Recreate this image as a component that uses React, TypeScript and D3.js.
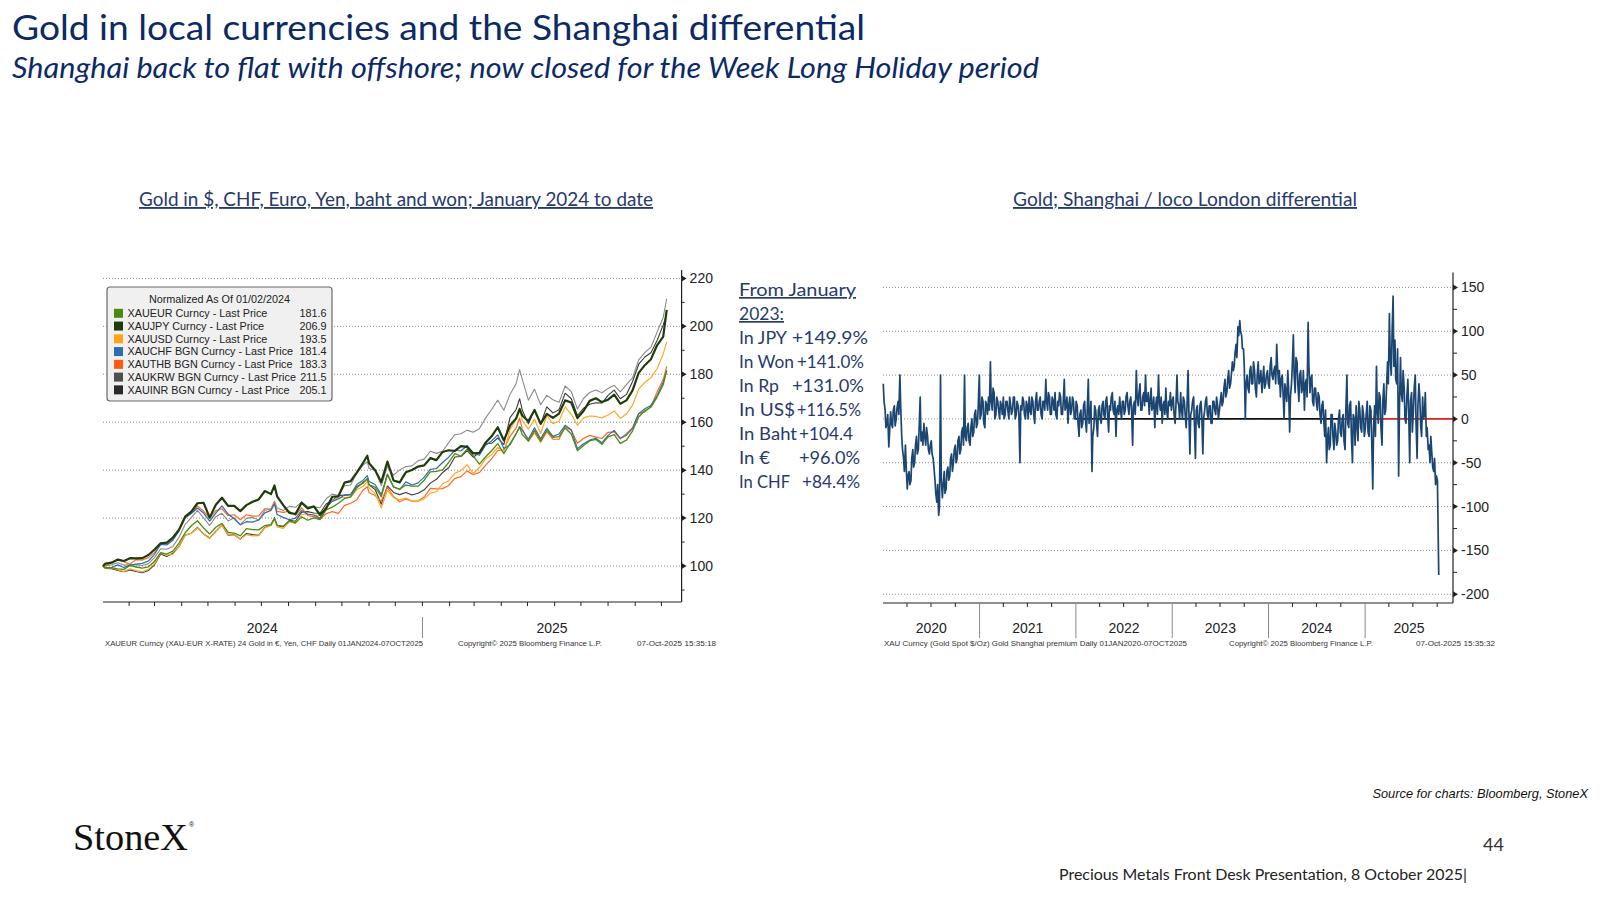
// Gold in local currencies + Shanghai premium slide
import React from 'react';
import * as d3 from 'd3';

// ---------- left chart: gold in local currencies, normalized 02/01/2024 = 100 ----------
const goldDates = [
  '2024-01-02', '2024-01-05', '2024-01-12', '2024-01-19', '2024-01-26', '2024-02-02', '2024-02-09', '2024-02-16',
  '2024-02-23', '2024-03-01', '2024-03-08', '2024-03-15', '2024-03-22', '2024-03-29', '2024-04-05', '2024-04-12',
  '2024-04-19', '2024-04-26', '2024-05-03', '2024-05-10', '2024-05-17', '2024-05-24', '2024-05-31', '2024-06-07',
  '2024-06-14', '2024-06-21', '2024-06-28', '2024-07-05', '2024-07-12', '2024-07-16', '2024-07-19', '2024-07-26',
  '2024-08-02', '2024-08-09', '2024-08-16', '2024-08-23', '2024-08-30', '2024-09-06', '2024-09-13', '2024-09-20',
  '2024-09-27', '2024-10-04', '2024-10-11', '2024-10-18', '2024-10-25', '2024-10-30', '2024-11-01', '2024-11-08',
  '2024-11-15', '2024-11-22', '2024-11-29', '2024-12-06', '2024-12-13', '2024-12-20', '2024-12-27', '2025-01-03',
  '2025-01-10', '2025-01-17', '2025-01-24', '2025-01-31', '2025-02-07', '2025-02-14', '2025-02-21', '2025-02-28',
  '2025-03-07', '2025-03-14', '2025-03-21', '2025-03-28', '2025-04-04', '2025-04-11', '2025-04-18', '2025-04-22',
  '2025-04-25', '2025-05-02', '2025-05-09', '2025-05-16', '2025-05-23', '2025-05-30', '2025-06-06', '2025-06-13',
  '2025-06-20', '2025-06-27', '2025-07-04', '2025-07-11', '2025-07-18', '2025-07-25', '2025-08-01', '2025-08-08',
  '2025-08-15', '2025-08-22', '2025-08-29', '2025-09-05', '2025-09-12', '2025-09-19', '2025-09-26', '2025-10-03',
  '2025-10-07',
];

const xauEUR = [
  100.0, 99.1, 99.3, 98.8, 98.6, 100.2, 99.6, 99.1, 99.7, 101.9,
  105.6, 105.0, 106.2, 109.6, 113.9, 116.8, 118.9, 115.9, 113.4, 116.2,
  117.8, 114.0, 113.7, 112.6, 115.6, 115.2, 115.1, 116.9, 117.3, 119.7,
  117.0, 116.6, 118.8, 118.0, 120.5, 119.1, 120.1, 119.4, 123.4, 124.6,
  126.2, 128.2, 128.8, 132.7, 134.9, 136.2, 133.9, 132.9, 128.9, 138.2,
  132.9, 132.1, 133.8, 133.3, 133.3, 135.8, 139.3, 139.5, 140.1, 143.2,
  146.9, 145.8, 148.8, 146.0, 142.5, 145.5, 148.1, 151.1, 146.9, 151.1,
  155.2, 157.9, 154.9, 152.1, 156.7, 152.2, 156.7, 153.7, 154.0, 157.6,
  155.1, 148.1, 150.3, 152.2, 152.8, 150.8, 153.9, 154.8, 151.2, 152.5,
  156.4, 162.2, 164.8, 166.3, 170.5, 175.6, 181.6,
];
const xauJPY = [
  100.0, 101.0, 101.4, 102.7, 102.1, 103.3, 103.2, 103.3, 104.6, 106.9,
  109.5, 109.8, 111.9, 115.2, 120.6, 122.7, 126.2, 126.4, 120.2, 125.6,
  128.5, 125.1, 125.1, 122.9, 125.4, 126.8, 127.8, 131.3, 130.0, 133.6,
  129.1, 125.4, 122.2, 121.7, 126.4, 124.0, 124.9, 121.4, 124.0, 128.9,
  129.1, 134.8, 135.4, 139.0, 142.9, 146.0, 142.9, 140.0, 135.0, 143.6,
  135.7, 134.9, 139.1, 140.1, 141.5, 142.0, 145.0, 144.2, 147.6, 148.3,
  148.0, 150.0, 149.7, 147.0, 147.2, 151.4, 154.1, 157.9, 152.4, 158.6,
  161.6, 165.5, 162.8, 160.4, 165.1, 159.3, 163.5, 161.8, 163.6, 169.1,
  168.2, 161.7, 164.7, 168.9, 170.0, 168.4, 169.4, 171.5, 167.7, 169.1,
  173.3, 180.6, 183.8, 186.3, 192.1, 195.7, 206.9,
];
const xauUSD = [
  100.0, 99.1, 99.3, 98.4, 97.8, 98.8, 98.1, 97.6, 98.6, 101.0,
  105.6, 104.5, 104.9, 108.1, 112.9, 113.6, 115.9, 113.3, 111.5, 114.4,
  117.1, 113.1, 112.8, 111.2, 113.1, 112.6, 112.7, 115.9, 116.9, 119.7,
  116.3, 115.7, 118.4, 117.8, 121.5, 121.8, 121.3, 121.0, 125.0, 127.1,
  128.8, 128.6, 128.8, 131.9, 133.2, 135.1, 132.6, 130.2, 124.2, 131.6,
  128.5, 127.6, 128.4, 127.1, 127.1, 128.0, 130.4, 131.0, 134.3, 135.6,
  138.7, 139.8, 142.3, 138.5, 141.1, 144.6, 146.5, 149.5, 147.2, 156.9,
  161.3, 166.0, 160.9, 157.1, 161.2, 155.3, 162.7, 159.4, 160.4, 166.4,
  163.3, 158.7, 161.8, 162.6, 162.4, 161.8, 163.0, 164.7, 161.7, 163.4,
  167.1, 173.8, 176.6, 178.6, 182.3, 188.4, 193.5,
];
const xauCHF = [
  100.0, 99.2, 99.5, 100.5, 99.4, 100.4, 100.8, 101.1, 102.1, 104.9,
  109.0, 108.8, 110.8, 114.7, 120.1, 121.9, 124.2, 122.1, 118.7, 122.1,
  125.1, 121.7, 119.7, 117.2, 118.5, 118.3, 119.2, 122.2, 123.2, 125.9,
  121.5, 120.3, 119.3, 120.0, 123.2, 121.6, 121.3, 120.0, 124.5, 127.0,
  128.0, 129.6, 129.8, 134.0, 135.7, 137.7, 135.3, 134.0, 129.8, 138.3,
  133.1, 131.9, 135.1, 133.8, 134.7, 137.1, 140.3, 140.7, 143.2, 145.4,
  148.3, 148.0, 150.3, 147.1, 146.2, 150.4, 152.2, 154.7, 149.0, 150.5,
  155.2, 158.2, 156.7, 152.9, 157.7, 153.1, 157.5, 154.1, 155.1, 158.7,
  156.9, 148.9, 151.0, 152.5, 153.3, 151.4, 154.5, 156.6, 153.3, 154.6,
  157.4, 163.5, 165.6, 167.0, 171.0, 176.7, 181.4,
];
const xauTHB = [
  100.0, 100.0, 101.6, 102.4, 101.8, 100.8, 102.7, 102.5, 103.5, 105.7,
  109.6, 109.4, 111.3, 115.3, 120.8, 121.9, 125.1, 122.9, 120.0, 123.1,
  123.9, 121.0, 121.4, 119.3, 121.4, 120.8, 120.9, 124.0, 123.7, 126.4,
  122.8, 122.4, 122.9, 121.2, 124.3, 121.1, 120.6, 119.5, 121.8, 122.7,
  122.0, 125.3, 126.2, 127.7, 131.6, 133.1, 130.6, 129.4, 127.1, 132.8,
  128.9, 126.8, 128.0, 127.1, 127.1, 128.8, 132.4, 132.2, 132.3, 133.6,
  136.6, 137.3, 139.7, 138.1, 139.0, 142.0, 144.7, 148.2, 148.5, 154.1,
  157.6, 161.7, 157.2, 152.1, 155.6, 151.7, 156.0, 152.9, 152.9, 158.1,
  156.6, 151.2, 153.2, 154.5, 153.8, 153.2, 155.8, 156.0, 153.1, 155.2,
  157.7, 163.7, 164.2, 166.6, 172.6, 177.8, 183.3,
];
const xauKRW = [
  100.0, 100.1, 100.5, 101.4, 100.4, 100.5, 100.5, 100.2, 101.0, 103.5,
  107.2, 107.0, 108.2, 112.0, 117.4, 120.2, 123.2, 120.1, 116.9, 120.6,
  122.0, 118.8, 120.1, 117.3, 119.9, 120.3, 119.2, 123.3, 123.8, 127.1,
  124.2, 123.2, 124.9, 124.5, 126.8, 124.7, 124.7, 124.3, 128.1, 130.0,
  129.4, 133.5, 133.8, 138.8, 142.0, 143.5, 140.7, 140.0, 133.6, 141.5,
  137.9, 140.1, 141.5, 141.8, 143.9, 144.6, 147.9, 147.0, 147.9, 151.5,
  154.8, 155.2, 156.7, 155.8, 157.3, 161.7, 165.3, 169.2, 165.0, 171.6,
  176.1, 181.9, 178.0, 169.2, 173.8, 167.3, 171.2, 169.4, 168.3, 175.1,
  172.8, 165.5, 169.9, 172.4, 173.4, 172.3, 174.1, 175.4, 172.7, 175.7,
  178.6, 186.0, 189.0, 191.3, 197.6, 203.7, 211.5,
];
const xauINR = [
  100.0, 99.0, 98.9, 98.2, 97.6, 98.4, 97.7, 97.2, 98.1, 100.5,
  105.0, 104.0, 105.3, 108.2, 112.9, 113.7, 116.1, 113.4, 111.7, 114.6,
  117.1, 112.9, 113.0, 111.3, 113.6, 113.1, 112.8, 116.1, 117.1, 120.2,
  116.9, 116.3, 119.1, 118.7, 122.5, 122.7, 122.1, 122.0, 125.9, 127.4,
  129.4, 129.6, 129.8, 133.2, 134.5, 136.5, 133.9, 131.9, 125.8, 133.4,
  130.7, 129.8, 130.7, 129.6, 130.4, 131.8, 134.6, 136.2, 139.0, 141.0,
  145.5, 145.7, 148.1, 145.4, 147.3, 151.0, 151.2, 153.4, 150.7, 161.9,
  165.3, 169.8, 165.1, 159.3, 165.2, 159.3, 166.4, 163.9, 165.2, 172.1,
  169.8, 162.8, 165.8, 167.5, 168.1, 168.0, 171.2, 173.4, 169.8, 171.6,
  177.0, 184.2, 187.2, 189.0, 194.1, 200.6, 205.1,
];

const legendTitle = 'Normalized As Of 01/02/2024';
const seriesNames = [
  'XAUEUR Curncy - Last Price',
  'XAUJPY Curncy - Last Price',
  'XAUUSD Curncy - Last Price',
  'XAUCHF BGN Curncy - Last Price',
  'XAUTHB BGN Curncy - Last Price',
  'XAUKRW BGN Curncy - Last Price',
  'XAUINR BGN Curncy - Last Price',
];
const lastPrices = ['181.6', '206.9', '193.5', '181.4', '183.3', '211.5', '205.1'];
const goldTicks = [100, 120, 140, 160, 180, 200, 220];
const goldYears = ['2024', '2025'];

// ---------- middle text block ----------
const changeLabels = ['In JPY', 'In Won', 'In Rp', 'In US$', 'In Baht', 'In €', 'In CHF'];
const changeValues = ['+149.9%', '+141.0%', '+131.0%', '+116.5%', '+104.4', '+96.0%', '+84.4%'];

// ---------- right chart: Shanghai premium over loco London, $/oz ----------
// Thursday readings, weekly from 2 Jan 2020, plus the last print on 7 Oct 2025
const premiumStart = '2020-01-02';
const premiumLastDate = '2025-10-07';
const shanghaiPremium = [
  40, 10, -5, -32, 8, -10, 15, 0, 20, 50, -20, -45, -30,
  -80, -60, -70, -35, -50, -20, -35, 25, -15, -5, -30, -20, -40,
  -25, -45, -70, -95, -110, 50, -90, -60, -80, -55, -65, -40, -50,
  -30, -45, -20, -35, -10, 50, -25, -5, -30, 0, -15, 10, -5,
  50, 5, 20, -10, 15, 25, 65, 10, 30, 5, 20, 0, 15,
  25, 5, 20, 0, 15, 10, 25, 5, 15, -50, 10, 20, 0,
  15, 25, 5, 20, -5, 30, 10, 25, 0, 20, 45, 10, 25,
  5, 20, 30, 0, 15, 25, 5, 45, 15, -5, 25, 10, 20,
  0, 15, -20, 10, -5, 20, -15, 45, 5, -60, -10, 10, -20,
  15, -5, 20, 0, 25, -15, 10, 30, 5, -20, 15, 25, 0,
  20, 10, 30, 5, 25, -30, 20, 55, 15, 40, 10, 30, 50,
  20, 5, 35, 15, -10, 25, 50, 10, -5, 20, 35, 0, 15,
  10, 25, -5, 50, 15, 30, 0, 20, -10, 55, -40, 10, 25,
  -45, 15, -10, 20, -40, 10, 25, 0, 15, -5, 20, 5, 15,
  10, 30, 20, 45, 30, 55, 40, 65, 60, 85, 105, 112, 95,
  80, 0, 50, 30, 60, 40, 55, 25, 65, 45, 30, 60, 40,
  55, 35, 70, 45, 60, 85, 40, 25, 50, 0, 30, 55, -15,
  40, 96, 30, 65, 20, 55, 35, 10, 45, 110, 30, 50, 15,
  35, 10, 25, -5, 20, -20, -50, -10, -30, 5, -35, -15, -25,
  10, -20, 5, -35, 50, -10, 20, -50, 0, 15, -25, 10, -15, 5,
  -10, 20, -20, 10, -80, 15, 60, -5, 25, -30, 40, 10, 65,
  120, 50, 140, 90, 40, -65, 70, 20, 35, -5, 45, -50, 30,
  10, 50, -45, 40, -10, 25, 5, -20, -35, -50, -40, -60, -75, -70,
  -178,
];
// Sunday-after readings (three days after each Thursday reading)
const shanghaiPremiumMid = [
  20, -10, 5, -15, -5, 10, -8, 12, 5, 15, -35, -60, -55,
  -65, -75, -45, -55, -30, -40, -10, -25, -30, -20, -10, -35, -30,
  -40, -55, -85, -75, -100, -70, -75, -85, -60, -70, -45, -60, -35,
  -50, -25, -40, -15, -30, -20, -10, -25, -10, -20, 5, -10, 15,
  0, 25, -5, 20, 5, 10, 20, 35, 0, 25, 10, 20, 5,
  0, 20, 10, 25, 5, 25, 0, 20, 5, 15, 25, 5, 20,
  0, 10, 25, 5, 20, 10, 20, 5, 20, 10, 20, 30, 5,
  25, 10, 5, 20, 30, 5, 20, 10, 25, 15, 5, 25, 0,
  20, -5, 5, -10, 15, 0, 10, -5, 20, -20, 15, -5, 10,
  0, 15, 5, 20, 5, 15, 25, 10, 20, 10, 5, 10, 20,
  5, 25, 15, 20, 10, 15, 5, 25, 30, 10, 25, 15, 20,
  30, 20, 10, 25, 15, 5, 20, 25, 15, 5, 10, 20, 30,
  20, 5, 15, 20, 0, 10, 25, 5, 15, 10, 5, 20, -5,
  10, -5, 15, 5, 0, 20, 5, 15, -5, 20, 10, 25, 0,
  20, 15, 35, 25, 45, 35, 50, 55, 75, 70, 95, 100, 80,
  60, 40, 35, 55, 40, 65, 35, 50, 40, 55, 45, 35, 50,
  40, 60, 50, 55, 40, 60, 55, 45, 30, 40, 20, 35, 25,
  60, 50, 70, 40, 50, 30, 55, 40, 25, 60, 45, 20, 35,
  20, 30, 5, 15, 0, 10, -25, -35, 5, -20, -5, -30, 0,
  -15, 0, -25, 10, -5, 15, -20, 5, -30, -5, 20, -10, 15, -20,
  5, -15, 15, -25, -10, -20, 10, 30, -10, 20, 5, 35, 40,
  70, 95, 60, 45, 80, 10, 30, 55, 0, 25, 10, 20, -15,
  35, -5, 15, 25, -20, 0, 30, -10, -30, -20, -55, -45, -65,
];
const premiumTicks = [150, 100, 50, 0, -50, -100, -150, -200];
const premiumYears = ['2020', '2021', '2022', '2023', '2024', '2025'];

// ---------- styling ----------
const parseDay = (s: string) => d3.timeParse('%Y-%m-%d')(s) as Date;
const NAVY = '#0c2a66';
const SLATE = '#283a6c';
const AXIS_FONT = "'Liberation Sans', Arial, sans-serif";
const SLIDE_FONT = "Lato, 'Open Sans', sans-serif";
const GRID = '#8c8c8c';

const seriesColors = ['#4f8a10', '#1f3b0b', '#ffa31a', '#2e6cb2', '#ff5a0d', '#4f4f4f', '#2a2a2a'];
const lineColors = ['#4f8a10', '#1f3b0b', '#ffa726', '#2e6cb2', '#ff6a1f', '#8a8a8a', '#3a3a3a'];
const lineWidths = [1.3, 2.2, 1.2, 1.2, 1.2, 1.1, 1.1];

const Triangle: React.FC<{ x: number; y: number }> = ({ x, y }) => (
  <path d={`M${x},${y - 3} L${x + 5},${y} L${x},${y + 3} Z`} fill="#222" />
);

const GoldChart: React.FC = () => {
  const left = 103;
  const axisX = 681.6;
  const top = 270;
  const bottom = 602;
  const start = parseDay('2024-01-01');
  const end = parseDay('2025-10-24');
  const x = d3.scaleTime().domain([start, end]).range([102, axisX]);
  const y = d3.scaleLinear().domain([85, 223.5]).range([bottom, top]);
  const dates = goldDates.map(parseDay);
  const line = d3.line<number>().x((_, i) => x(dates[i])).y((v) => y(v));
  const allSeries = [xauEUR, xauJPY, xauUSD, xauCHF, xauTHB, xauKRW, xauINR];
  const drawOrder = [5, 6, 4, 2, 3, 0, 1];
  const months = d3.timeMonth.range(start, end).filter((d) => d > start);
  const yearBounds = [start, parseDay('2025-01-01'), end];
  const minor = d3.range(90, 221, 10).filter((v) => v % 20 !== 0);

  const legX = 107;
  const legY = 287;
  const rowH = 12.76;

  return (
    <g>
      {goldTicks.map((t) => (
        <line key={t} x1={left} x2={axisX} y1={y(t)} y2={y(t)} stroke={GRID} strokeWidth={1} strokeDasharray="1 2" />
      ))}
      {drawOrder.map((k) => (
        <path
          key={k}
          d={line(allSeries[k]) || ''}
          fill="none"
          stroke={lineColors[k]}
          strokeWidth={lineWidths[k]}
          strokeLinejoin="round"
        />
      ))}
      {/* right axis */}
      <line x1={axisX} x2={axisX} y1={top} y2={bottom} stroke="#222" strokeWidth={1.2} />
      {minor.map((t) => (
        <line key={t} x1={axisX} x2={axisX + 3} y1={y(t)} y2={y(t)} stroke="#222" strokeWidth={1} />
      ))}
      {goldTicks.map((t) => (
        <g key={t}>
          <Triangle x={axisX} y={y(t)} />
          <text x={axisX + 8} y={y(t) + 5} fontSize={14} fontFamily={AXIS_FONT} fill="#222">
            {t}
          </text>
        </g>
      ))}
      {/* bottom axis */}
      <line x1={left} x2={axisX} y1={bottom} y2={bottom} stroke="#222" strokeWidth={1.2} />
      {months.map((m) => (
        <line key={+m} x1={x(m)} x2={x(m)} y1={bottom} y2={bottom + 4} stroke="#222" strokeWidth={1} />
      ))}
      <line x1={x(yearBounds[1])} x2={x(yearBounds[1])} y1={617} y2={638} stroke="#888" strokeWidth={1} />
      {goldYears.map((yr, i) => (
        <text
          key={yr}
          x={(x(yearBounds[i]) + x(yearBounds[i + 1])) / 2}
          y={633}
          textAnchor="middle"
          fontSize={14}
          fontFamily={AXIS_FONT}
          fill="#222"
        >
          {yr}
        </text>
      ))}
      <g fontFamily={AXIS_FONT} fontSize={7} fill="#333">
        <text x={105} y={646} textLength={318} lengthAdjust="spacingAndGlyphs">
          XAUEUR Curncy (XAU-EUR X-RATE) 24 Gold in €, Yen, CHF Daily 01JAN2024-07OCT2025
        </text>
        <text x={458} y={646} textLength={144} lengthAdjust="spacingAndGlyphs">
          Copyright© 2025 Bloomberg Finance L.P.
        </text>
        <text x={637} y={646} textLength={79} lengthAdjust="spacingAndGlyphs">
          07-Oct-2025 15:35:18
        </text>
      </g>
      {/* legend */}
      <rect x={legX} y={legY} width={225} height={114} rx={3} fill="#f0f0f0" stroke="#6a6a6a" strokeWidth={1.2} />
      <text x={legX + 112.5} y={legY + 16} textAnchor="middle" fontSize={10.8} fontFamily={AXIS_FONT} fill="#222">
        {legendTitle}
      </text>
      {seriesNames.map((name, i) => {
        const cy = 313.3 + i * rowH;
        return (
          <g key={name}>
            <rect x={114} y={cy - 4.5} width={9} height={9} fill={seriesColors[i]} />
            <text x={127.5} y={cy + 3.9} fontSize={10.8} fontFamily={AXIS_FONT} fill="#222">
              {name}
            </text>
            <text x={326.5} y={cy + 3.9} textAnchor="end" fontSize={10.8} fontFamily={AXIS_FONT} fill="#222">
              {lastPrices[i]}
            </text>
          </g>
        );
      })}
    </g>
  );
};

const PremiumChart: React.FC = () => {
  const left = 883;
  const axisX = 1453;
  const top = 272.5;
  const bottom = 603;
  const start = parseDay('2020-01-01');
  const end = parseDay('2025-11-30');
  const x = d3.scaleTime().domain([start, end]).range([left, axisX]);
  const y = d3.scaleLinear().domain([-210, 167]).range([bottom, top]);
  const first = parseDay(premiumStart);
  const last = shanghaiPremium.length - 1;
  const points: [Date, number][] = [];
  shanghaiPremium.forEach((v, i) => {
    points.push([i < last ? d3.timeDay.offset(first, 7 * i) : parseDay(premiumLastDate), v]);
  });
  shanghaiPremiumMid.forEach((v, i) => {
    points.push([d3.timeDay.offset(first, 7 * i + 3), v]);
  });
  points.sort((a, b) => +a[0] - +b[0]);
  const line = d3.line<[Date, number]>().x((p) => x(p[0])).y((p) => y(p[1]));
  const quarters = d3.timeMonth.every(3)!.range(start, end).filter((d) => d.getMonth() !== 0);
  const yearStarts = d3.timeYear.range(start, end);
  const bounds = [...yearStarts, end];
  const minor = d3.range(-200, 166, 25).filter((v) => v % 50 !== 0);
  const refSplit = parseDay('2024-09-25');

  return (
    <g>
      {premiumTicks.map((t) => (
        <line key={t} x1={left} x2={axisX} y1={y(t)} y2={y(t)} stroke={GRID} strokeWidth={1} strokeDasharray="1 2" />
      ))}
      <line x1={x(parseDay('2022-01-01'))} x2={x(refSplit)} y1={y(0)} y2={y(0)} stroke="#111" strokeWidth={1.6} />
      <line x1={x(refSplit)} x2={axisX} y1={y(0)} y2={y(0)} stroke="#e0201b" strokeWidth={1.6} />
      <path d={line(points) || ''} fill="none" stroke="#1c4672" strokeWidth={1.7} strokeLinejoin="round" />
      {/* right axis */}
      <line x1={axisX} x2={axisX} y1={top} y2={bottom} stroke="#222" strokeWidth={1.2} />
      {minor.map((t) => (
        <line key={t} x1={axisX} x2={axisX + 4} y1={y(t)} y2={y(t)} stroke="#222" strokeWidth={1} />
      ))}
      {premiumTicks.map((t) => (
        <g key={t}>
          <Triangle x={axisX} y={y(t)} />
          <text x={axisX + 8} y={y(t) + 5} fontSize={14} fontFamily={AXIS_FONT} fill="#222">
            {t < 0 ? `-${Math.abs(t)}` : t}
          </text>
        </g>
      ))}
      {/* bottom axis */}
      <line x1={left} x2={axisX} y1={bottom} y2={bottom} stroke="#222" strokeWidth={1.2} />
      {quarters.map((q) => (
        <line key={+q} x1={x(q)} x2={x(q)} y1={bottom} y2={bottom + 4} stroke="#222" strokeWidth={1} />
      ))}
      {yearStarts.slice(1).map((d) => (
        <line key={+d} x1={x(d)} x2={x(d)} y1={bottom} y2={638} stroke="#888" strokeWidth={1} />
      ))}
      {premiumYears.map((yr, i) => (
        <text
          key={yr}
          x={(x(bounds[i]) + x(bounds[i + 1])) / 2}
          y={633}
          textAnchor="middle"
          fontSize={14}
          fontFamily={AXIS_FONT}
          fill="#222"
        >
          {yr}
        </text>
      ))}
      <g fontFamily={AXIS_FONT} fontSize={7} fill="#333">
        <text x={884} y={646} textLength={303} lengthAdjust="spacingAndGlyphs">
          XAU Curncy (Gold Spot   $/Oz) Gold Shanghai premium Daily 01JAN2020-07OCT2025
        </text>
        <text x={1229} y={646} textLength={144} lengthAdjust="spacingAndGlyphs">
          Copyright© 2025 Bloomberg Finance L.P.
        </text>
        <text x={1416} y={646} textLength={79} lengthAdjust="spacingAndGlyphs">
          07-Oct-2025 15:35:32
        </text>
      </g>
    </g>
  );
};

const ChangeBlock: React.FC = () => {
  const labelWidths = [48, 55, 40, 56, 58, 31, 51];
  const valueX = [792, 797, 792, 797, 799, 799, 802];
  const valueWidths = [76, 67, 72, 64, 54, 61, 58];
  const x0 = 739;
  const rowY = (i: number) => 296 + i * 24;
  return (
    <g fontFamily={SLIDE_FONT} fontSize={17} fill={SLATE}>
      <text x={x0} y={rowY(0)} textDecoration="underline" textLength={117} lengthAdjust="spacingAndGlyphs">
        From January
      </text>
      <text x={x0} y={rowY(1)} textDecoration="underline" textLength={45} lengthAdjust="spacingAndGlyphs">
        2023:
      </text>
      {changeLabels.map((lab, i) => (
        <g key={lab}>
          <text x={x0} y={rowY(i + 2)} textLength={labelWidths[i]} lengthAdjust="spacingAndGlyphs">
            {lab}
          </text>
          <text x={valueX[i]} y={rowY(i + 2)} textLength={valueWidths[i]} lengthAdjust="spacingAndGlyphs">
            {changeValues[i]}
          </text>
        </g>
      ))}
    </g>
  );
};

export default function App() {
  return (
    <div style={{ position: 'absolute', left: 0, top: 0, width: 1600, height: 900, background: '#fff' }}>
      <svg width={1600} height={900} style={{ display: 'block' }}>
        <rect width={1600} height={900} fill="#fff" />
        <text x={12} y={40} fontSize={35.5} fontFamily={SLIDE_FONT} fill={NAVY} textLength={853} lengthAdjust="spacingAndGlyphs">
          Gold in local currencies and the Shanghai differential
        </text>
        <text
          x={12}
          y={78}
          fontSize={29}
          fontStyle="italic"
          fontFamily={SLIDE_FONT}
          fill={NAVY}
          textLength={1027}
          lengthAdjust="spacingAndGlyphs"
        >
          Shanghai back to flat with offshore; now closed for the Week Long Holiday period
        </text>
        <text
          x={139}
          y={206}
          fontSize={18.5}
          fontFamily={SLIDE_FONT}
          fill={SLATE}
          textDecoration="underline"
          textLength={514}
          lengthAdjust="spacingAndGlyphs"
        >
          Gold in $, CHF, Euro, Yen, baht and won; January 2024 to date
        </text>
        <text
          x={1013}
          y={206}
          fontSize={18.5}
          fontFamily={SLIDE_FONT}
          fill={SLATE}
          textDecoration="underline"
          textLength={344}
          lengthAdjust="spacingAndGlyphs"
        >
          Gold; Shanghai / loco London differential
        </text>

        <GoldChart />
        <ChangeBlock />
        <PremiumChart />

        <text x={1588} y={798} textAnchor="end" fontSize={12.8} fontStyle="italic" fontFamily={AXIS_FONT} fill="#111">
          Source for charts: Bloomberg, StoneX
        </text>
        <text
          x={73}
          y={850}
          fontSize={37}
          fontFamily="'Liberation Serif', 'DejaVu Serif', serif"
          fill="#111"
          textLength={115}
          lengthAdjust="spacingAndGlyphs"
        >
          StoneX
        </text>
        <text x={189} y={827} fontSize={7} fontFamily={AXIS_FONT} fill="#111">
          ®
        </text>
        <text x={1483} y={851} fontSize={18} fontFamily={SLIDE_FONT} fill="#333">
          44
        </text>
        <text x={1059} y={880} fontSize={15.5} fontFamily={SLIDE_FONT} fill="#222" textLength={408} lengthAdjust="spacingAndGlyphs">
          Precious Metals Front Desk Presentation, 8 October 2025|
        </text>
      </svg>
    </div>
  );
}
